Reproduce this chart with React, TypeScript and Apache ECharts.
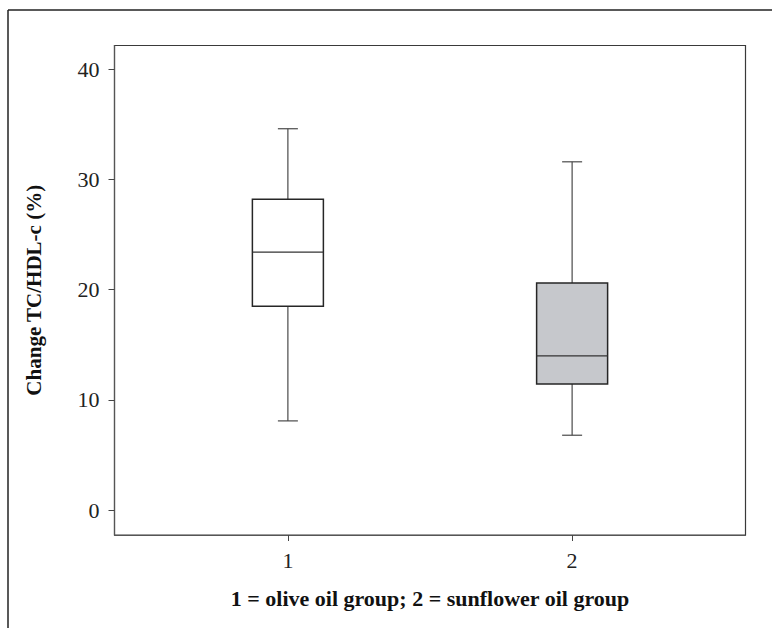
import React, { useEffect, useRef } from "react";
import * as echarts from "echarts";

const groups = [1, 2];
const whiskerLow = [8.1, 6.8];
const q1 = [18.5, 11.45];
const median = [23.4, 14.0];
const q3 = [28.2, 20.6];
const whiskerHigh = [34.6, 31.6];
const fills = ["#ffffff", "#c6c8cc"];
const yTicks = [0, 10, 20, 30, 40];
const xTicks = [1, 2];
const yName = "Change TC/HDL-c (%)";
const xName = "1 = olive oil group; 2 = sunflower oil group";

export default function App() {
  const ref = useRef<HTMLDivElement>(null);
  useEffect(() => {
    document.body.style.margin = "0";
    const chart = echarts.init(ref.current!, undefined, { renderer: "svg" });
    const data = groups.map((g, i) => [g, whiskerLow[i], q1[i], median[i], q3[i], whiskerHigh[i], i]);
    chart.setOption({
      animation: false,
      backgroundColor: "#ffffff",
      textStyle: { fontFamily: "Liberation Serif, Times New Roman, serif" },
      grid: {
        left: 114.5,
        top: 45.5,
        right: 26.5,
        bottom: 93,
        show: true,
        borderColor: "#3a3a3a",
        borderWidth: 1.2,
      },
      xAxis: {
        type: "value",
        min: 0.39,
        max: 2.61,
        splitLine: { show: false },
        axisLine: { show: true, onZero: false, lineStyle: { color: "#555", width: 1.2 } },
        axisTick: { show: true, length: 6, customValues: xTicks, lineStyle: { color: "#444" } },
        axisLabel: {
          customValues: xTicks,
          color: "#222",
          fontSize: 22,
          margin: 14,
          fontFamily: "Liberation Serif, serif",
        },
        name: xName,
        nameLocation: "middle",
        nameGap: 52,
        nameMoveOverlap: false,
        nameTextStyle: { color: "#111", fontSize: 22, fontWeight: "bold", fontFamily: "Liberation Serif, serif" },
      },
      yAxis: {
        type: "value",
        min: -2.25,
        max: 42.15,
        splitLine: { show: false },
        axisLine: { show: true, onZero: false, lineStyle: { color: "#555", width: 1.2 } },
        axisTick: { show: true, length: 6, customValues: yTicks, lineStyle: { color: "#444" } },
        axisLabel: {
          customValues: yTicks,
          color: "#222",
          fontSize: 22,
          margin: 15,
          fontFamily: "Liberation Serif, serif",
        },
        name: yName,
        nameLocation: "middle",
        nameGap: 70,
        nameMoveOverlap: false,
        nameTextStyle: { color: "#111", fontSize: 21, fontWeight: "bold", fontFamily: "Liberation Serif, serif" },
      },
      graphic: [
        { type: "line", shape: { x1: 8, y1: 10, x2: 772, y2: 10 }, style: { stroke: "#222", lineWidth: 1.5 } },
        { type: "line", shape: { x1: 8, y1: 10, x2: 8, y2: 628 }, style: { stroke: "#222", lineWidth: 1.5 } },
      ],
      series: [
        {
          type: "custom",
          data,
          encode: { x: 0, y: [1, 2, 3, 4, 5] },
          renderItem: (params: any, api: any) => {
            const x = api.value(0);
            const pLow = api.coord([x, api.value(1)]);
            const pQ1 = api.coord([x, api.value(2)]);
            const pMed = api.coord([x, api.value(3)]);
            const pQ3 = api.coord([x, api.value(4)]);
            const pHigh = api.coord([x, api.value(5)]);
            const idx = api.value(6);
            const cx = pLow[0];
            const half = 35.5;
            const cap = 10;
            const whiskerStyle = { stroke: "#4a4a4a", lineWidth: 1.2 };
            const boxStyle = { stroke: "#262626", lineWidth: 1.5 };
            return {
              type: "group",
              children: [
                { type: "line", shape: { x1: cx, y1: pHigh[1], x2: cx, y2: pQ3[1] }, style: whiskerStyle },
                { type: "line", shape: { x1: cx, y1: pQ1[1], x2: cx, y2: pLow[1] }, style: whiskerStyle },
                { type: "line", shape: { x1: cx - cap, y1: pHigh[1], x2: cx + cap, y2: pHigh[1] }, style: whiskerStyle },
                { type: "line", shape: { x1: cx - cap, y1: pLow[1], x2: cx + cap, y2: pLow[1] }, style: whiskerStyle },
                {
                  type: "rect",
                  shape: { x: cx - half, y: pQ3[1], width: half * 2, height: pQ1[1] - pQ3[1] },
                  style: { ...boxStyle, fill: fills[idx] },
                },
                { type: "line", shape: { x1: cx - half, y1: pMed[1], x2: cx + half, y2: pMed[1] }, style: { stroke: "#333", lineWidth: 1.3 } },
              ],
            };
          },
        },
      ],
    });
    return () => chart.dispose();
  }, []);
  return <div ref={ref} style={{ width: 772, height: 628 }} />;
}
